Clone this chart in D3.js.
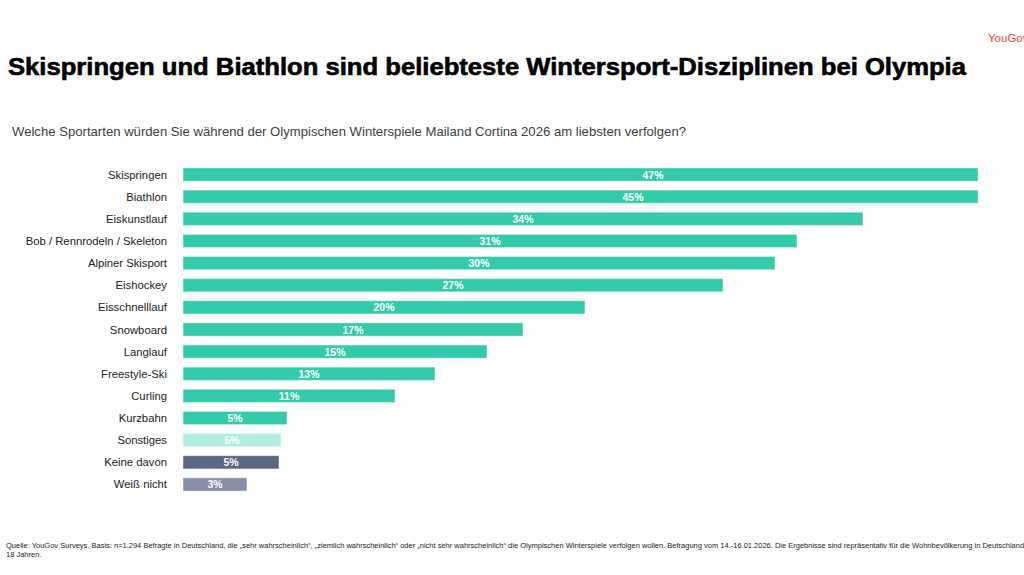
<!DOCTYPE html>
<html>
<head>
<meta charset="utf-8">
<script src="https://cdn.jsdelivr.net/npm/d3@7"></script>
<style>
  body { margin: 0; background: #fff; overflow: hidden; }
  svg { display: block; font-family: "Liberation Sans", Arial, sans-serif; }
</style>
</head>
<body>
<div id="chart"></div>
<script>
const categories = ["Skispringen","Biathlon","Eiskunstlauf","Bob / Rennrodeln / Skeleton","Alpiner Skisport","Eishockey","Eisschnelllauf","Snowboard","Langlauf","Freestyle-Ski","Curling","Kurzbahn","Sonstiges","Keine davon","Weiß nicht"];
const values = [47, 45, 34, 30.7, 29.6, 27, 20.1, 17, 15.2, 12.6, 10.6, 5.2, 4.9, 4.8, 3.2];
const labels = ["47%","45%","34%","31%","30%","27%","20%","17%","15%","13%","11%","5%","5%","5%","3%"];
const colors = ["#33cba9","#33cba9","#33cba9","#33cba9","#33cba9","#33cba9","#33cba9","#33cba9","#33cba9","#33cba9","#33cba9","#33cba9","#aeede0","#5b6781","#868fa8"];

const width = 1024, height = 575;

const svg = d3.select("#chart").append("svg")
    .attr("width", width)
    .attr("height", height);

// logo (cut at the right edge, as in the slide)
svg.append("text")
    .attr("x", 988).attr("y", 42)
    .style("font-size", "11.5px")
    .style("fill", "#ff412c")
    .text("YouGov");

svg.append("text")
    .attr("x", 8).attr("y", 75)
    .attr("textLength", 958)
    .attr("lengthAdjust", "spacingAndGlyphs")
    .style("font-size", "23px")
    .style("font-weight", "bold")
    .style("fill", "#000")
    .style("stroke", "#000")
    .style("stroke-width", "0.6px")
    .text("Skispringen und Biathlon sind beliebteste Wintersport-Disziplinen bei Olympia");

svg.append("text")
    .attr("x", 12).attr("y", 136)
    .attr("textLength", 674)
    .attr("lengthAdjust", "spacingAndGlyphs")
    .style("font-size", "13px")
    .style("fill", "#404040")
    .text("Welche Sportarten würden Sie während der Olympischen Winterspiele Mailand Cortina 2026 am liebsten verfolgen?");

// 20px per percent, bars beyond the plot edge are cut off like in the original
const x = d3.scaleLinear().domain([0, 1]).range([183, 203]);
const xEnd = 978;

const y = d3.scaleBand()
    .domain(categories)
    .range([163.5, 495.5])
    .paddingInner(0.4)
    .paddingOuter(0.2);

const rows = categories.map((c, i) => ({cat: c, v: values[i], label: labels[i], color: colors[i]}));

svg.append("g")
  .selectAll("rect")
  .data(rows)
  .enter().append("rect")
    .attr("x", x(0))
    .attr("y", d => y(d.cat))
    .attr("width", d => Math.min(x(d.v), xEnd) - x(0))
    .attr("height", y.bandwidth())
    .style("fill", d => d.color)
    .style("stroke", "#ffffff")
    .style("stroke-opacity", 0.5)
    .style("stroke-width", "1px");

svg.append("g")
  .selectAll("text")
  .data(rows)
  .enter().append("text")
    .attr("x", 167)
    .attr("y", d => y(d.cat) + y.bandwidth() / 2 + 4)
    .style("text-anchor", "end")
    .style("font-size", "11.3px")
    .style("fill", "#222")
    .text(d => d.cat);

svg.append("g")
  .selectAll("text")
  .data(rows)
  .enter().append("text")
    .attr("x", d => (x(0) + x(d.v)) / 2)
    .attr("y", d => y(d.cat) + y.bandwidth() / 2 + 4)
    .style("text-anchor", "middle")
    .style("font-size", "10.5px")
    .style("font-weight", "bold")
    .style("fill", "#ffffff")
    .text(d => d.label);

const foot = svg.append("g").style("font-size", "7.5px").style("fill", "#222");
foot.append("text").attr("x", 6).attr("y", 548)
    .text("Quelle: YouGov Surveys, Basis: n=1.294 Befragte in Deutschland, die \u201esehr wahrscheinlich\u201c, \u201eziemlich wahrscheinlich\u201c oder \u201enicht sehr wahrscheinlich\u201c die Olympischen Winterspiele verfolgen wollen. Befragung vom 14.-16.01.2026. Die Ergebnisse sind repräsentativ für die Wohnbevölkerung in Deutschland ab");
foot.append("text").attr("x", 6).attr("y", 557).text("18 Jahren.");
</script>
</body>
</html>
